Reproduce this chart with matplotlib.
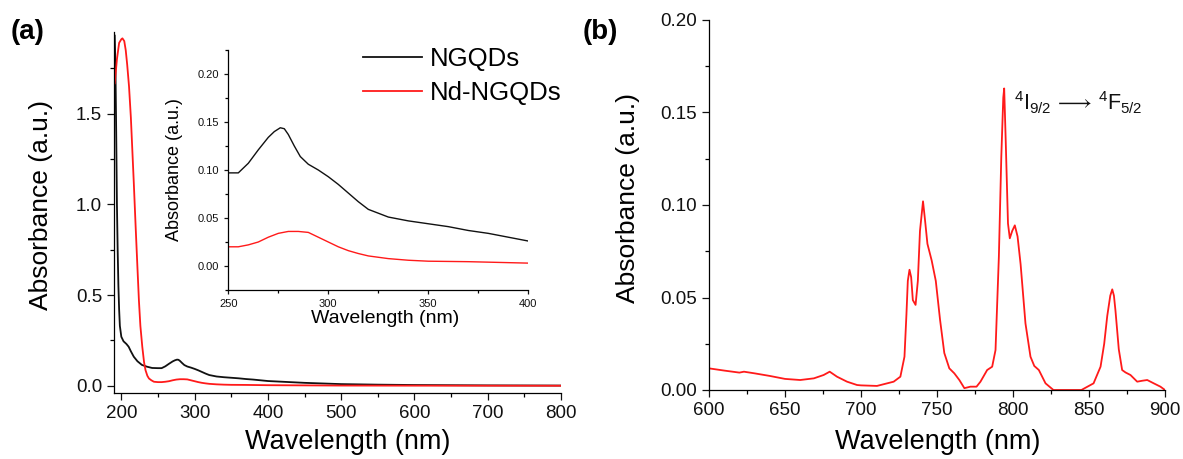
import numpy as np
import matplotlib
matplotlib.use("Agg")
import matplotlib.pyplot as plt
from matplotlib.ticker import MultipleLocator

plt.rcParams['font.family'] = ['Liberation Sans', 'DejaVu Sans']
plt.rcParams['mathtext.fontset'] = 'custom'
plt.rcParams['mathtext.rm'] = 'Liberation Sans'
plt.rcParams['mathtext.it'] = 'Liberation Sans:italic'
plt.rcParams['axes.linewidth'] = 0.9

# ---- panel (a): UV-vis absorbance, NGQDs vs Nd-NGQDs ----
wl_ngqd = [191, 192, 193, 194, 195, 196, 197, 198, 200, 203, 207, 210, 213, 217,
           222, 228, 235, 242, 250, 255, 260, 265, 270, 273, 276, 278, 280, 283,
           286, 290, 295, 300, 305, 310, 315, 320, 325, 330, 340, 350, 360, 370,
           380, 390, 400, 420, 450, 500, 550, 600, 700, 800]
abs_ngqd = [1.93, 1.75, 1.40, 1.00, 0.75, 0.55, 0.42, 0.33, 0.27, 0.245, 0.23,
            0.215, 0.19, 0.16, 0.135, 0.115, 0.105, 0.098, 0.097, 0.097, 0.107,
            0.121, 0.134, 0.140, 0.144, 0.143, 0.137, 0.125, 0.114, 0.106, 0.100,
            0.093, 0.085, 0.076, 0.067, 0.059, 0.055, 0.051, 0.047, 0.044, 0.041,
            0.037, 0.034, 0.030, 0.026, 0.022, 0.016, 0.009, 0.006, 0.004, 0.002,
            0.001]

wl_nd = [191, 194, 197, 200, 201.5, 204, 206, 208, 210.5, 213, 215, 217, 219.5,
         222, 224, 226, 228.6, 231, 233, 235.5, 237.7, 241, 244.5, 250, 255, 260,
         265, 270, 275, 280, 285, 290, 295, 300, 305, 310, 315, 320, 330, 340,
         350, 370, 400, 450, 500, 600, 800]
abs_nd = [1.667, 1.80, 1.89, 1.91, 1.915, 1.90, 1.85, 1.77, 1.65, 1.48, 1.30,
          1.12, 0.88, 0.65, 0.47, 0.33, 0.215, 0.13, 0.086, 0.055, 0.04, 0.03,
          0.022, 0.020, 0.020, 0.022, 0.025, 0.030, 0.034, 0.036, 0.036, 0.035,
          0.030, 0.025, 0.020, 0.016, 0.013, 0.0105, 0.0077, 0.006, 0.005,
          0.0045, 0.003, 0.002, 0.001, 0.0005, 0.0]

# ---- panel (b): Nd3+ NIR absorbance ----
wl_b = [600, 610, 620, 623, 630, 640, 650, 660, 669, 675.4, 679.4, 684.2, 690.8,
        697.4, 700, 710.5, 721.5, 725.9, 728.6, 729.9, 730.8, 731.9, 733, 734.1,
        735.9, 737.4, 738.8, 740.8, 742.1, 743.7, 746.5, 749.2, 752, 754.8, 758.1,
        761.4, 764.7, 768, 772, 776, 778.6, 783, 786.3, 788.5, 790.7, 792.3,
        793.6, 794.2, 795.2, 796.7, 797.9, 799.5, 801.2, 803, 805, 808.2, 811.5,
        814, 817, 821.4, 826.6, 835, 845, 853, 857.6, 860, 862, 864, 865.3, 866.4,
        867.4, 869.6, 871.8, 874, 877.3, 881.7, 885, 888.3, 892.6, 897, 900]
abs_b = [0.0117, 0.0105, 0.0094, 0.0099, 0.0090, 0.0076, 0.0060, 0.0054, 0.0063,
         0.0081, 0.0099, 0.0072, 0.0045, 0.0027, 0.0025, 0.0022, 0.0045, 0.0072,
         0.018, 0.041, 0.059, 0.065, 0.061, 0.0486, 0.046, 0.059, 0.086, 0.102,
         0.092, 0.079, 0.070, 0.059, 0.038, 0.020, 0.0117, 0.0090, 0.0054, 0.001,
         0.0018, 0.0018, 0.0045, 0.0108, 0.0126, 0.0216, 0.072, 0.126, 0.158,
         0.163, 0.135, 0.090, 0.082, 0.086, 0.089, 0.083, 0.068, 0.036, 0.018,
         0.013, 0.0108, 0.0036, 0.0, 0.0, 0.0, 0.0036, 0.0126, 0.025, 0.040,
         0.051, 0.0544, 0.051, 0.043, 0.022, 0.0108, 0.0095, 0.0081, 0.0045,
         0.0050, 0.0054, 0.0036, 0.0018, 0.0]

black = '#111111'
red = '#ff1a1a'

fig = plt.figure(figsize=(11.83, 4.59), dpi=100)

def style(ax, major, minor, fs):
    for s in ['top', 'right']:
        ax.spines[s].set_visible(False)
    ax.tick_params(which='major', direction='out', length=major, width=0.9,
                   labelsize=fs, colors=black)
    ax.tick_params(which='minor', direction='out', length=minor, width=0.9)

# (a) main
ax1 = fig.add_axes([114/1183, 1-393/459, 447/1183, 361/459])
ax1.plot(wl_ngqd, abs_ngqd, color=black, lw=1.3, label='NGQDs')
ax1.plot(wl_nd, abs_nd, color=red, lw=1.3, label='Nd-NGQDs')
ax1.set_xlim(190, 800)
ax1.set_ylim(-0.04, 1.95)
ax1.xaxis.set_major_locator(MultipleLocator(100))
ax1.xaxis.set_minor_locator(MultipleLocator(50))
ax1.yaxis.set_major_locator(MultipleLocator(0.5))
ax1.yaxis.set_minor_locator(MultipleLocator(0.25))
style(ax1, 5, 3, 13.5)
ax1.set_xlabel('Wavelength (nm)', fontsize=19.5)
ax1.set_ylabel('Absorbance (a.u.)', fontsize=19)
ax1.xaxis.set_label_coords(0.522, -0.10)
ax1.yaxis.set_label_coords(-0.136, 0.52)

# (a) inset
axi = fig.add_axes([228.3/1183, 1-290/459, 300/1183, 240/459])
axi.patch.set_alpha(0)
axi.plot(wl_ngqd, abs_ngqd, color=black, lw=1.0)
axi.plot(wl_nd, abs_nd, color=red, lw=1.0)
axi.set_xlim(250, 400)
axi.set_ylim(-0.025, 0.225)
axi.xaxis.set_minor_locator(MultipleLocator(25))
axi.yaxis.set_minor_locator(MultipleLocator(0.025))
axi.set_xticks([250, 300, 350, 400])
axi.set_xticklabels(['250', '300', '350', '400'])
axi.set_yticks([0.0, 0.05, 0.10, 0.15, 0.20])
axi.set_yticklabels(['0.00', '0.05', '0.10', '0.15', '0.20'])
style(axi, 3, 2, 8)
axi.set_xlabel('Wavelength (nm)', fontsize=14)
axi.set_ylabel('Absorbance (a.u.)', fontsize=13)
axi.xaxis.set_label_coords(0.522, -0.085)
axi.yaxis.set_label_coords(-0.151, 0.5)

leg = axi.legend(ax1.get_lines(), ['NGQDs', 'Nd-NGQDs'], loc='upper left',
                 bbox_to_anchor=(363/1183, 1-47/459),
                 bbox_transform=fig.transFigure, frameon=False, fontsize=18.5,
                 handlelength=2.3, handletextpad=0.3, labelspacing=0.4,
                 borderpad=0, borderaxespad=0)

# (b)
ax2 = fig.add_axes([709/1183, 1-390/459, 456/1183, 370/459])
ax2.plot(wl_b, abs_b, color=red, lw=1.3)
ax2.set_xlim(600, 900)
ax2.set_ylim(0, 0.2)
ax2.xaxis.set_major_locator(MultipleLocator(50))
ax2.xaxis.set_minor_locator(MultipleLocator(25))
ax2.yaxis.set_major_locator(MultipleLocator(0.05))
ax2.yaxis.set_minor_locator(MultipleLocator(0.025))
ax2.yaxis.set_major_formatter(plt.FormatStrFormatter('%.2f'))
style(ax2, 5, 3, 13.5)
ax2.set_xlabel('Wavelength (nm)', fontsize=19.5)
ax2.set_ylabel('Absorbance (a.u.)', fontsize=19)
ax2.xaxis.set_label_coords(0.502, -0.105)
ax2.yaxis.set_label_coords(-0.152, 0.52)

fig.text(1014/1183, 1-110/459,
         '$^{4}$I$_{9/2}$$\\,\\longrightarrow\\,$$^{4}$F$_{5/2}$',
         fontsize=15.5, ha='left', va='baseline', color=black)

fig.text(28/1183, 1-32/459, '(a)', fontsize=20, fontweight='bold',
         ha='center', va='center')
fig.text(600/1183, 1-32/459, '(b)', fontsize=20, fontweight='bold',
         ha='center', va='center')

plt.savefig('out.png', dpi=100)
